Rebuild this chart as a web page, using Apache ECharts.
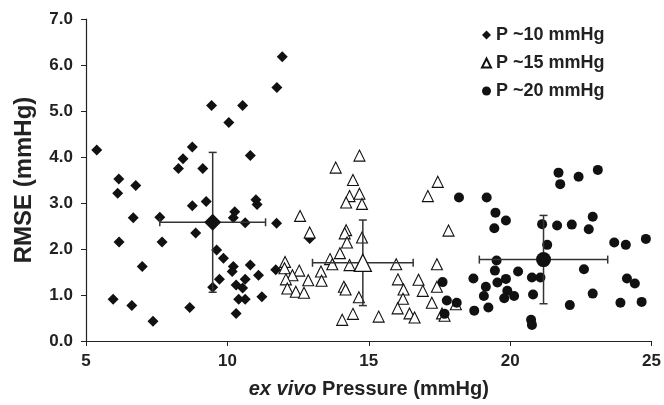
<!DOCTYPE html>
<html>
<head>
<meta charset="utf-8">
<script src="https://cdn.jsdelivr.net/npm/echarts@6/dist/echarts.min.js"></script>
<style>html,body{margin:0;padding:0;background:#fff}#c{width:664px;height:405px}</style>
</head>
<body>
<div id="c"></div>
<script>
const seriesNames = ['P ~10 mmHg', 'P ~15 mmHg', 'P ~20 mmHg'];
const xTicks = [5, 10, 15, 20, 25];
const yTicks = [0, 1, 2, 3, 4, 5, 6, 7];

const p10 = [
  [5.38,4.15],[6.16,3.52],[6.76,3.38],[6.12,3.21],[8.76,2.94],[9.25,3.03],[6.67,2.68],[7.61,2.69],
  [10.26,2.81],[10.21,2.68],[10.63,2.57],[11.01,3.07],[11.05,2.97],[11.74,2.56],[6.17,2.15],[7.69,2.15],
  [8.88,2.35],[6.99,1.62],[9.62,1.98],[9.86,1.80],[10.21,1.62],[10.17,1.51],[10.81,1.65],[11.10,1.43],
  [9.72,1.34],[10.63,1.34],[9.48,1.17],[10.31,1.22],[10.54,1.15],[10.40,0.91],[10.63,0.91],[11.22,0.96],
  [10.31,0.60],[5.96,0.91],[6.62,0.77],[7.37,0.43],[8.67,0.73],[11.71,1.55],[8.27,3.75],[8.43,3.96],
  [8.76,4.22],[9.13,3.75],[9.44,5.12],[10.05,4.75],[10.54,5.12],[10.81,4.03],[11.75,5.51],[11.94,6.18],
  [12.91,2.23]
];
const p15 = [
  [14.67,4.03],[13.83,3.77],[14.44,3.50],[14.32,3.15],[14.67,3.20],[14.20,3.01],[14.76,2.98],[12.57,2.72],
  [12.91,2.36],[14.20,2.41],[14.15,2.34],[14.76,2.25],[14.23,2.14],[13.98,1.91],[13.63,1.78],[13.71,1.67],
  [14.32,1.65],[15.97,1.67],[12.04,1.72],[12.02,1.58],[12.54,1.53],[12.30,1.43],[12.07,1.34],[12.86,1.32],
  [13.31,1.51],[13.33,1.31],[12.12,1.14],[12.42,1.07],[12.71,1.05],[14.12,1.18],[14.18,1.12],[14.65,0.95],
  [14.06,0.46],[14.44,0.59],[15.35,0.53],[16.03,1.34],[16.23,1.12],[16.21,0.92],[16.02,0.71],[16.44,0.60],
  [16.62,0.51],[16.76,1.33],[16.91,1.09],[17.23,0.83],[17.41,1.18],[17.41,1.67],[17.82,2.40],[17.09,3.15],
  [17.44,3.46],[17.59,0.60],[18.08,0.80],[17.68,0.55]
];
const p20 = [
  [18.19,3.12],[19.17,3.12],[19.48,2.79],[19.85,2.62],[19.44,2.45],[21.71,3.66],[21.77,3.41],[22.42,3.57],
  [23.10,3.72],[21.13,2.54],[21.66,2.51],[22.18,2.53],[22.92,2.70],[22.78,2.43],[23.68,2.14],[24.09,2.09],
  [24.80,2.22],[21.31,2.09],[19.52,1.75],[19.46,1.53],[20.28,1.51],[22.61,1.56],[18.70,1.36],[19.55,1.27],
  [19.85,1.35],[20.77,1.38],[21.07,1.38],[19.14,1.18],[19.90,1.09],[19.07,0.98],[19.79,0.93],[20.14,0.98],
  [20.81,1.01],[22.92,1.03],[24.13,1.36],[24.41,1.25],[23.90,0.83],[24.65,0.85],[22.11,0.78],[19.23,0.73],
  [18.73,0.66],[20.74,0.46],[20.77,0.35],[17.61,1.28],[17.76,0.88],[18.11,0.83],[17.68,0.59]
];

const meanX = [9.48, 14.79, 21.18];
const meanY = [2.58, 1.70, 1.77];
const sdX = [1.87, 1.78, 2.27];
const sdY = [1.52, 0.93, 0.96];

const fontFam = '"Liberation Sans", Arial, sans-serif';
const symbols = ['diamond', 'triangle', 'circle'];
const sizes = [11, 11, 10];
const meanSizes = [17, 17, 15];
const styles = [
  {color: '#111', borderWidth: 0},
  {color: '#fff', borderColor: '#111', borderWidth: 1.1},
  {color: '#111', borderWidth: 0}
];
const groups = [p10, p15, p20];

const series = [];
groups.forEach((g, i) => {
  series.push({
    name: seriesNames[i], type: 'scatter', symbol: symbols[i], symbolSize: sizes[i],
    itemStyle: Object.assign({opacity: 1}, styles[i]), data: g, z: 2 + i, silent: true
  });
});
groups.forEach((g, i) => {
  series.push({
    type: 'custom', z: 10, silent: true,
    data: [[meanX[i], meanY[i], sdX[i], sdY[i]]],
    renderItem: function (params, api) {
      const x = api.value(0), y = api.value(1), dx = api.value(2), dy = api.value(3);
      const l = api.coord([x - dx, y]), r = api.coord([x + dx, y]);
      const t = api.coord([x, y + dy]), b = api.coord([x, y - dy]);
      const c = 4;
      const st = {stroke: '#333', lineWidth: 1.5};
      return {type: 'group', children: [
        {type: 'line', shape: {x1: l[0], y1: l[1], x2: r[0], y2: r[1]}, style: st},
        {type: 'line', shape: {x1: l[0], y1: l[1] - c, x2: l[0], y2: l[1] + c}, style: st},
        {type: 'line', shape: {x1: r[0], y1: r[1] - c, x2: r[0], y2: r[1] + c}, style: st},
        {type: 'line', shape: {x1: t[0], y1: t[1], x2: b[0], y2: b[1]}, style: st},
        {type: 'line', shape: {x1: t[0] - c, y1: t[1], x2: t[0] + c, y2: t[1]}, style: st},
        {type: 'line', shape: {x1: b[0] - c, y1: b[1], x2: b[0] + c, y2: b[1]}, style: st}
      ]};
    }
  });
});
groups.forEach((g, i) => {
  series.push({
    type: 'scatter', symbol: symbols[i], symbolSize: meanSizes[i], z: 12, silent: true,
    itemStyle: Object.assign({opacity: 1}, styles[i], i === 1 ? {borderWidth: 1.3} : {}),
    data: [[meanX[i], meanY[i]]]
  });
});

const chart = echarts.init(document.getElementById('c'), null, {renderer: 'canvas'});
chart.setOption({
  animation: false,
  backgroundColor: '#fff',
  grid: {left: 86, right: 10, top: 19, bottom: 64},
  legend: {
    data: seriesNames.map((n, i) => ({name: n, icon: symbols[i]})),
    orient: 'vertical', left: 476, top: 21, itemGap: 10,
    itemWidth: 9, itemHeight: 9,
    textStyle: {fontFamily: fontFam, fontWeight: 'bold', fontSize: 18, lineHeight: 18, color: '#222'}
  },
  xAxis: {
    type: 'value', min: xTicks[0], max: xTicks[xTicks.length - 1], interval: 5,
    axisLine: {lineStyle: {color: '#222', width: 1.2}},
    axisTick: {show: true, length: 5, lineStyle: {color: '#222'}},
    splitLine: {show: false},
    axisLabel: {fontFamily: fontFam, fontWeight: 'bold', fontSize: 17, color: '#222', margin: 12},
    name: '{i|ex vivo} Pressure (mmHg)', nameLocation: 'middle', nameGap: 38,
    nameTextStyle: {fontFamily: fontFam, fontWeight: 'bold', fontSize: 20, color: '#222',
      rich: {i: {fontFamily: fontFam, fontWeight: 'bold', fontStyle: 'italic', fontSize: 20, color: '#222'}}}
  },
  yAxis: {
    type: 'value', min: yTicks[0], max: yTicks[yTicks.length - 1], interval: 1,
    axisLine: {show: true, lineStyle: {color: '#222', width: 1.2}},
    axisTick: {show: true, length: 5, lineStyle: {color: '#222'}},
    splitLine: {show: false},
    axisLabel: {fontFamily: fontFam, fontWeight: 'bold', fontSize: 17, color: '#222', margin: 13,
      formatter: v => v.toFixed(1)},
    name: 'RMSE (mmHg)', nameLocation: 'middle', nameGap: 50, nameRotate: 90,
    nameTextStyle: {fontFamily: fontFam, fontWeight: 'bold', fontSize: 24, color: '#222'}
  },
  series: series
});
</script>
</body>
</html>
